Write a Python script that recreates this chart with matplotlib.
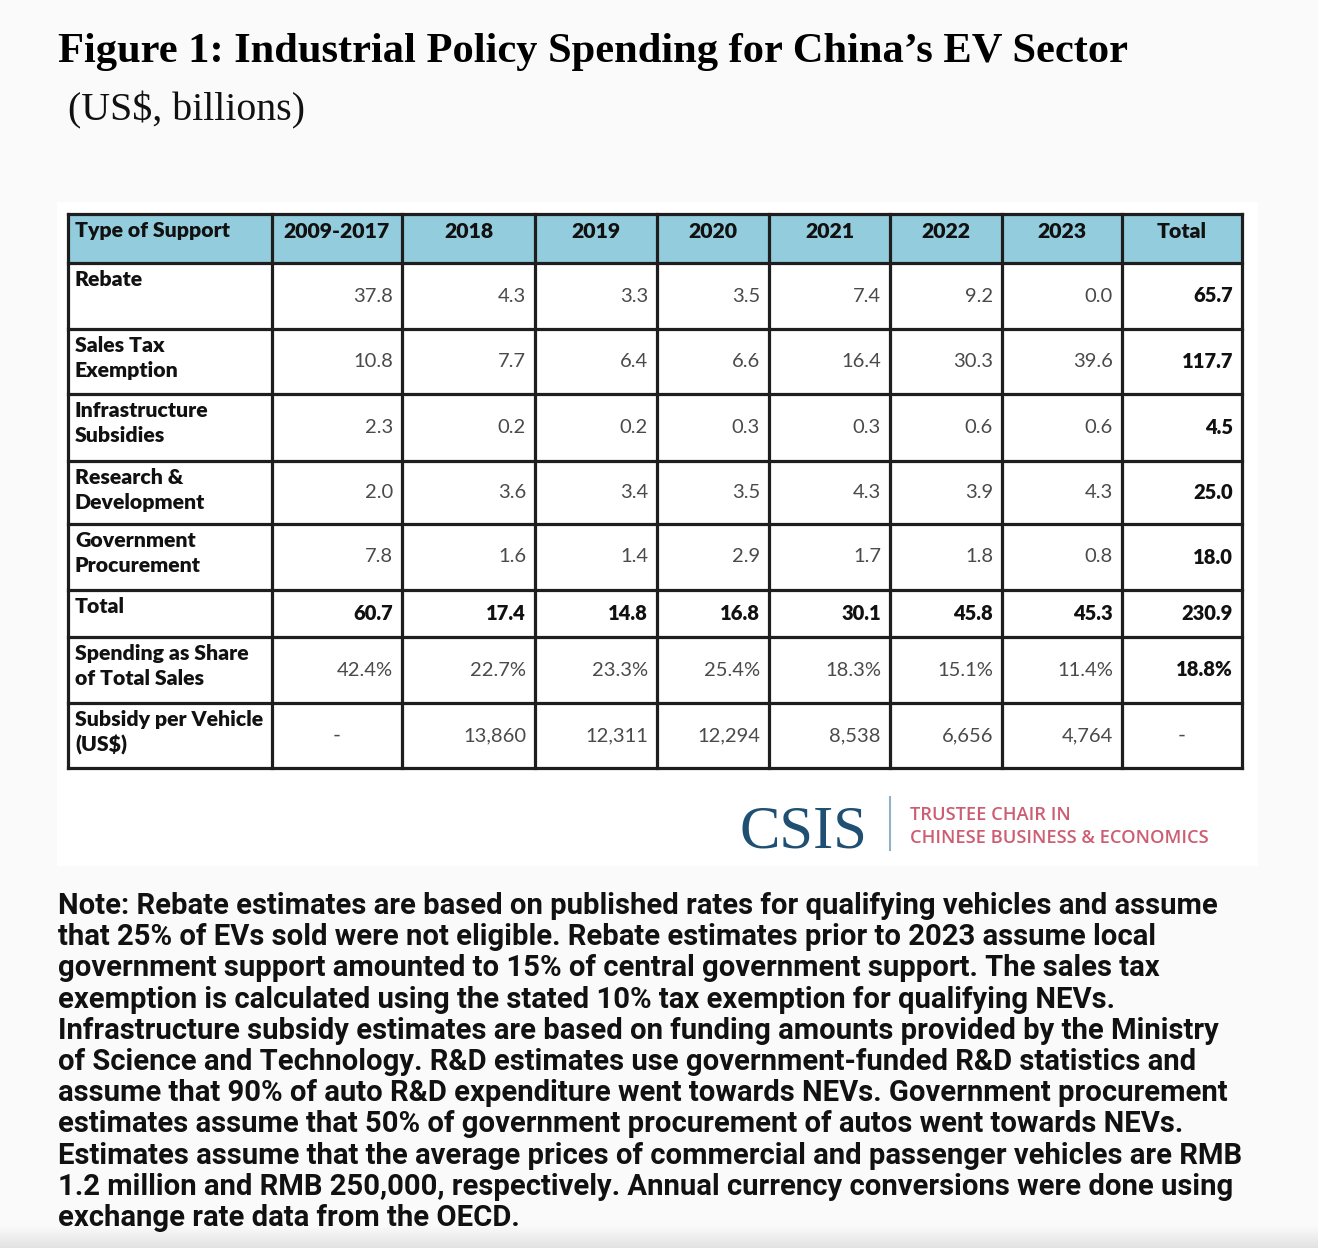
import numpy as np
import matplotlib.pyplot as plt
from matplotlib import font_manager
from matplotlib.patches import Rectangle

title = "Figure 1: Industrial Policy Spending for China\u2019s EV Sector"
subtitle = "(US$, billions)"

columns = ["Type of Support", "2009-2017", "2018", "2019", "2020", "2021", "2022", "2023", "Total"]
row_labels = ["Rebate", "Sales Tax\nExemption", "Infrastructure\nSubsidies", "Research &\nDevelopment",
              "Government\nProcurement", "Total", "Spending as Share\nof Total Sales",
              "Subsidy per Vehicle\n(US$)"]

# US$ billions, last value in each list is the Total column
rebate = [37.8, 4.3, 3.3, 3.5, 7.4, 9.2, 0.0, 65.7]
sales_tax = [10.8, 7.7, 6.4, 6.6, 16.4, 30.3, 39.6, 117.7]
infrastructure = [2.3, 0.2, 0.2, 0.3, 0.3, 0.6, 0.6, 4.5]
research = [2.0, 3.6, 3.4, 3.5, 4.3, 3.9, 4.3, 25.0]
procurement = [7.8, 1.6, 1.4, 2.9, 1.7, 1.8, 0.8, 18.0]
total = [60.7, 17.4, 14.8, 16.8, 30.1, 45.8, 45.3, 230.9]
share_pct = [42.4, 22.7, 23.3, 25.4, 18.3, 15.1, 11.4, 18.8]
per_vehicle = [None, 13860, 12311, 12294, 8538, 6656, 4764, None]

note_lines = [
    "Note: Rebate estimates are based on published rates for qualifying vehicles and assume",
    "that 25% of EVs sold were not eligible. Rebate estimates prior to 2023 assume local",
    "government support amounted to 15% of central government support. The sales tax",
    "exemption is calculated using the stated 10% tax exemption for qualifying NEVs.",
    "Infrastructure subsidy estimates are based on funding amounts provided by the Ministry",
    "of Science and Technology. R&D estimates use government-funded R&D statistics and",
    "assume that 90% of auto R&D expenditure went towards NEVs. Government procurement",
    "estimates assume that 50% of government procurement of autos went towards NEVs.",
    "Estimates assume that the average prices of commercial and passenger vehicles are RMB",
    "1.2 million and RMB 250,000, respectively. Annual currency conversions were done using",
    "exchange rate data from the OECD.",
]

# build the cell strings
money_rows = [rebate, sales_tax, infrastructure, research, procurement, total]
cells = [["{:.1f}".format(v) for v in r] for r in money_rows]
cells.append(["{:.1f}%".format(v) for v in share_pct])
cells.append(["-" if v is None else "{:,}".format(v) for v in per_vehicle])

# layout in pixels
W, H = 1318, 1248
col_edges = [68, 272, 402, 535, 657, 769, 890, 1002, 1122, 1242]
row_edges = [214, 263, 329, 394, 461, 524, 590, 637, 703, 768]
header_color = "#93cddd"
line_color = "#1e1e1e"
value_color = "#4a4a4a"


def pick_font(names):
    for n in names:
        try:
            font_manager.findfont(n, fallback_to_default=False)
            return n
        except Exception:
            pass
    return "DejaVu Sans"


note_font = pick_font(["Liberation Sans Narrow", "Roboto", "DejaVu Sans"])
table_font = pick_font(["Lato", "Open Sans", "DejaVu Sans"])

fig = plt.figure(figsize=(W / 100, H / 100), dpi=100, facecolor="#fafafa")
ax = fig.add_axes([0, 0, 1, 1])
ax.set_xlim(0, W)
ax.set_ylim(H, 0)
ax.axis("off")
renderer = fig.canvas.get_renderer()


def fit(t, width):
    w = t.get_window_extent(renderer).width
    t.set_fontsize(t.get_fontsize() * width / w)


# slight grey shade at the very bottom
grad = np.linspace(0, 1, 50).reshape(-1, 1)
ax.imshow(grad, cmap=plt.matplotlib.colors.LinearSegmentedColormap.from_list("g", ["#fafafa", "#e2e2e2"]),
          extent=(0, W, H, 1226), aspect="auto", zorder=0)

# white panel behind the table and logo
ax.add_patch(Rectangle((57, 202), 1201, 664, facecolor="white", edgecolor="none", zorder=1))

t = ax.text(58, 62, title, family="Liberation Serif", weight="bold", fontsize=32, color="black")
fit(t, 1072)
t = ax.text(68, 120, subtitle, family="Liberation Serif", fontsize=26, color="#111111")
fit(t, 237)

# header fill
ax.add_patch(Rectangle((col_edges[0], row_edges[0]), col_edges[-1] - col_edges[0], row_edges[1] - row_edges[0],
                       facecolor=header_color, edgecolor="none", zorder=2))

# size the table font from the first header
t = ax.text(col_edges[0] + 7, row_edges[0] + 17, columns[0], family=table_font, weight="heavy",
            fontsize=14, va="center", ha="left", color="#111111", zorder=4)
fit(t, 155)
fs = t.get_fontsize()

for j in range(1, len(columns)):
    xc = (col_edges[j] + col_edges[j + 1]) / 2
    ax.text(xc, row_edges[0] + 17, columns[j], family=table_font, weight="heavy", fontsize=fs,
            va="center", ha="center", color="#111111", zorder=4)

for i, lab in enumerate(row_labels):
    top = row_edges[i + 1]
    bot = row_edges[i + 2]
    ax.text(col_edges[0] + 7, top + 7, lab, family=table_font, weight="heavy", fontsize=fs,
            va="top", ha="left", color="#111111", linespacing=1.38, zorder=4)
    yc = (top + bot) / 2
    for j, s in enumerate(cells[i]):
        bold = (i == 5) or (j == len(cells[i]) - 1)
        left, right = col_edges[j + 1], col_edges[j + 2]
        if s == "-":
            ax.text((left + right) / 2, yc, s, family=table_font, fontsize=fs, va="center", ha="center",
                    color=value_color, zorder=4)
        else:
            ax.text(right - 9, yc, s, family=table_font, fontsize=fs * 0.95, va="center", ha="right",
                    weight="heavy" if bold else "normal", color="#111111" if bold else value_color, zorder=4)

# grid lines
for x in col_edges:
    ax.plot([x, x], [row_edges[0], row_edges[-1]], color=line_color, lw=2.3, solid_capstyle="projecting", zorder=5)
for y in row_edges:
    ax.plot([col_edges[0], col_edges[-1]], [y, y], color=line_color, lw=2.3, solid_capstyle="projecting", zorder=5)

# CSIS logo
t = ax.text(740, 848, "CSIS", family="Liberation Serif", fontsize=44, color="#1f4f72", va="baseline", zorder=4)
fit(t, 128)
ax.plot([890, 890], [797, 850], color="#8fb2c8", lw=1.5, zorder=4)
t1 = ax.text(910, 820, "TRUSTEE CHAIR IN", family="Open Sans", weight="semibold", fontsize=10,
             color="#cc5d72", va="baseline", zorder=4)
t2 = ax.text(910, 843, "CHINESE BUSINESS & ECONOMICS", family="Open Sans", weight="semibold", fontsize=10,
             color="#cc5d72", va="baseline", zorder=4)
fit(t2, 297)
t1.set_fontsize(t2.get_fontsize())

# note
note_texts = []
for k, line in enumerate(note_lines):
    note_texts.append(ax.text(58, 914 + 31.2 * k, line, family=note_font, weight="bold", fontsize=18,
                              color="#111111", va="baseline", zorder=4))
widest = max(nt.get_window_extent(renderer).width for nt in note_texts)
scale = 1187 / widest
for nt in note_texts:
    nt.set_fontsize(18 * scale)

fig.savefig("out.png", dpi=100, facecolor=fig.get_facecolor())
